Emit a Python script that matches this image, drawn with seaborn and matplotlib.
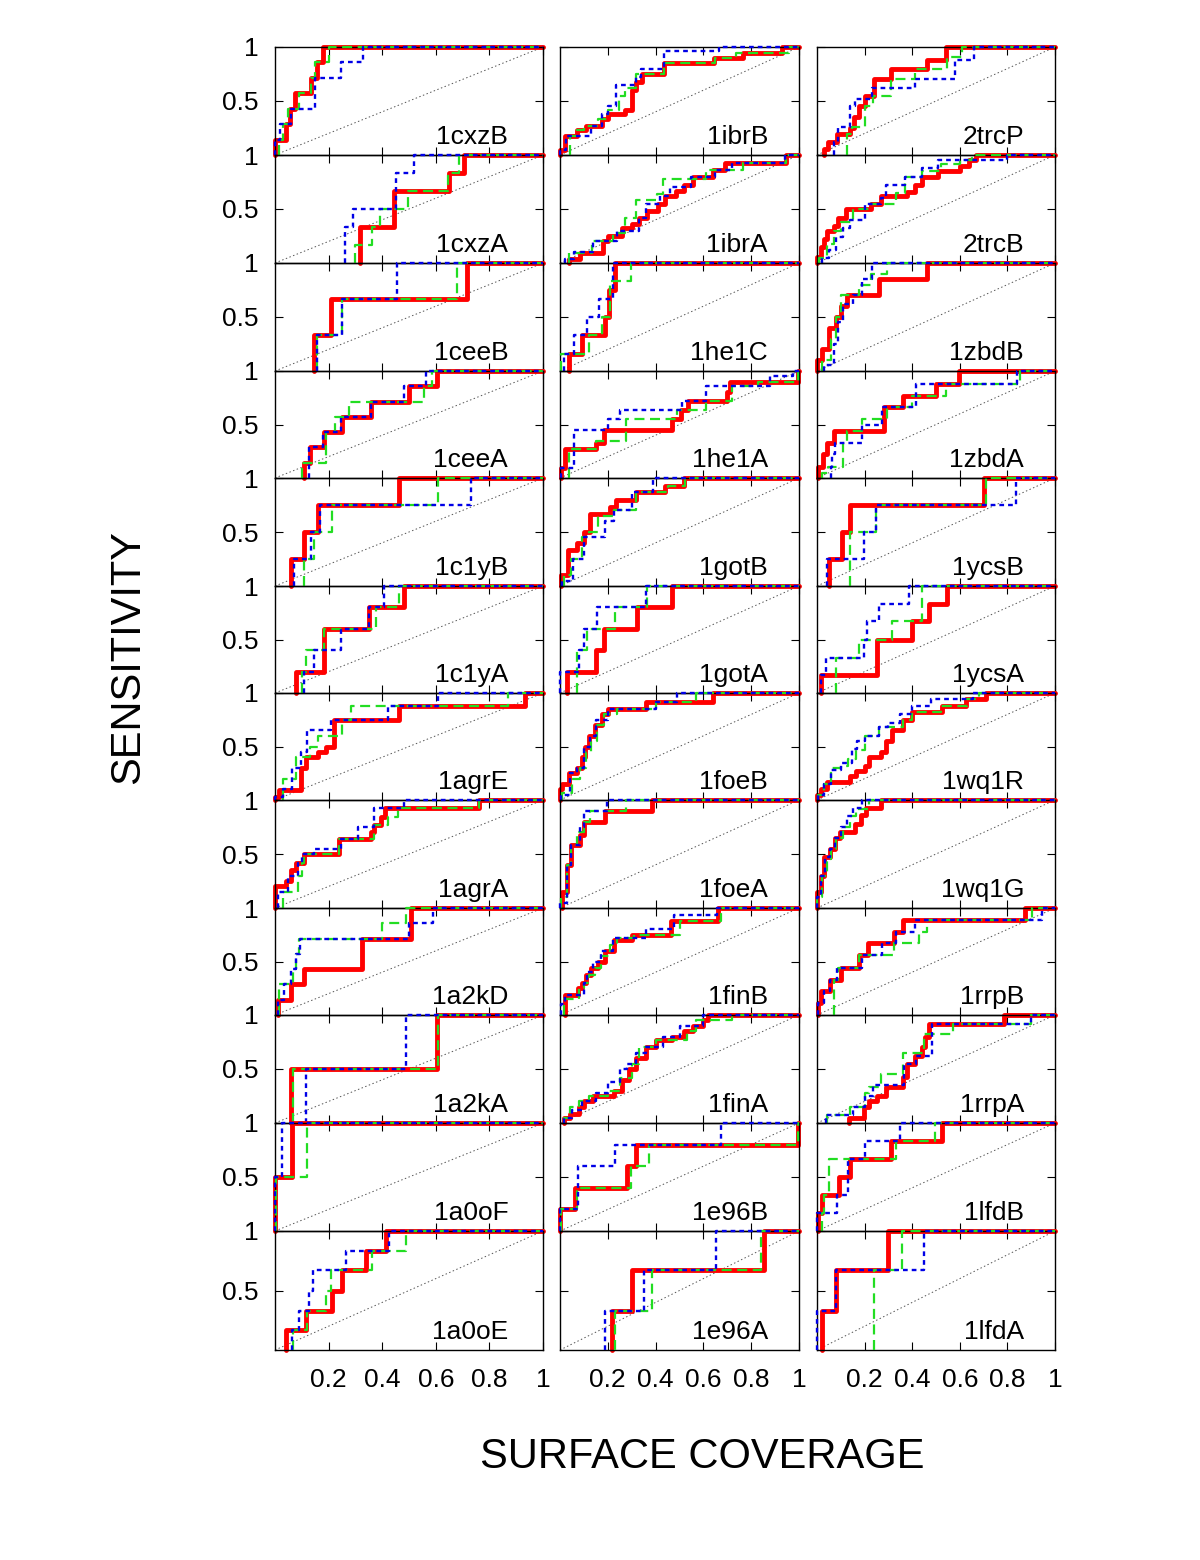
import matplotlib
matplotlib.use("Agg")
import matplotlib.pyplot as plt
import seaborn as sns

# ---------------- data ----------------
panel_names = [
    ["1cxzB", "1ibrB", "2trcP"],
    ["1cxzA", "1ibrA", "2trcB"],
    ["1ceeB", "1he1C", "1zbdB"],
    ["1ceeA", "1he1A", "1zbdA"],
    ["1c1yB", "1gotB", "1ycsB"],
    ["1c1yA", "1gotA", "1ycsA"],
    ["1agrE", "1foeB", "1wq1R"],
    ["1agrA", "1foeA", "1wq1G"],
    ["1a2kD", "1finB", "1rrpB"],
    ["1a2kA", "1finA", "1rrpA"],
    ["1a0oF", "1e96B", "1lfdB"],
    ["1a0oE", "1e96A", "1lfdA"],
]

x_ticks = [0.2, 0.4, 0.6, 0.8, 1.0]
x_tick_labels = ["0.2", "0.4", "0.6", "0.8", "1"]
y_ticks = [0.5, 1.0]
y_tick_labels = ["0.5", "1"]

# red (thick solid) curve: jump positions and levels after each jump
red_x = {
    "1cxzB": [0.0, 0.04, 0.055, 0.075, 0.135, 0.155, 0.18],
    "1ibrB": [0.0, 0.02, 0.07, 0.11, 0.175, 0.2, 0.27, 0.3, 0.32, 0.345, 0.435, 0.645, 0.765, 0.93],
    "2trcP": [0.03, 0.045, 0.085, 0.14, 0.155, 0.175, 0.2, 0.24, 0.31, 0.463, 0.54],
    "1cxzA": [0.317, 0.444, 0.648, 0.704],
    "1ibrA": [0.036, 0.085, 0.18, 0.2, 0.26, 0.3, 0.33, 0.365, 0.41, 0.44, 0.485, 0.52, 0.555, 0.64, 0.69, 0.947],
    "2trcB": [0.0, 0.015, 0.03, 0.043, 0.07, 0.09, 0.12, 0.225, 0.27, 0.38, 0.41, 0.44, 0.51, 0.6, 0.64, 0.667],
    "1ceeB": [0.146, 0.208, 0.715],
    "1he1C": [0.036, 0.092, 0.19, 0.207, 0.232],
    "1zbdB": [0.0, 0.02, 0.05, 0.08, 0.1, 0.127, 0.26, 0.464],
    "1ceeA": [0.11, 0.13, 0.183, 0.25, 0.357, 0.5, 0.605],
    "1he1A": [0.005, 0.022, 0.15, 0.183, 0.47, 0.505, 0.535, 0.7, 0.71, 0.995],
    "1zbdA": [0.005, 0.025, 0.04, 0.07, 0.28, 0.36, 0.5, 0.597],
    "1c1yB": [0.06, 0.108, 0.16, 0.462],
    "1gotB": [0.005, 0.035, 0.07, 0.1, 0.125, 0.21, 0.235, 0.32, 0.44, 0.52],
    "1ycsB": [0.05, 0.106, 0.14, 0.7],
    "1c1yA": [0.078, 0.183, 0.35, 0.48],
    "1gotA": [0.03, 0.15, 0.183, 0.323, 0.47],
    "1ycsA": [0.015, 0.253, 0.4, 0.47, 0.548],
    "1agrE": [0.0, 0.015, 0.097, 0.115, 0.16, 0.19, 0.22, 0.462, 0.933],
    "1foeB": [0.0, 0.01, 0.036, 0.07, 0.09, 0.105, 0.12, 0.148, 0.176, 0.2, 0.358, 0.64],
    "1wq1R": [0.0, 0.015, 0.04, 0.14, 0.165, 0.2, 0.22, 0.27, 0.29, 0.315, 0.36, 0.4, 0.525, 0.625, 0.71],
    "1agrA": [0.0, 0.04, 0.06, 0.078, 0.11, 0.24, 0.357, 0.37, 0.394, 0.41, 0.76],
    "1foeA": [0.008, 0.03, 0.045, 0.085, 0.1, 0.19, 0.386],
    "1wq1G": [0.0, 0.015, 0.03, 0.055, 0.075, 0.095, 0.16, 0.185, 0.205, 0.267],
    "1a2kD": [0.01, 0.06, 0.11, 0.326, 0.506],
    "1finB": [0.022, 0.075, 0.09, 0.11, 0.13, 0.16, 0.19, 0.225, 0.3, 0.463, 0.66],
    "1rrpB": [0.005, 0.018, 0.055, 0.1, 0.176, 0.214, 0.323, 0.36, 0.876],
    "1a2kA": [0.06, 0.605],
    "1finA": [0.015, 0.043, 0.078, 0.1, 0.14, 0.225, 0.26, 0.29, 0.316, 0.36, 0.4, 0.47, 0.52, 0.555, 0.6, 0.62],
    "1rrpA": [0.134, 0.197, 0.22, 0.25, 0.29, 0.36, 0.38, 0.41, 0.44, 0.455, 0.47, 0.785],
    "1a0oF": [0.0, 0.065],
    "1e96B": [0.0, 0.064, 0.28, 0.32, 0.995],
    "1lfdB": [0.005, 0.022, 0.092, 0.14, 0.31, 0.527],
    "1a0oE": [0.041, 0.115, 0.214, 0.25, 0.338, 0.413],
    "1e96A": [0.218, 0.3, 0.855],
    "1lfdA": [0.022, 0.078, 0.3],
}
red_y = {
    "1cxzB": [0.14, 0.29, 0.43, 0.57, 0.71, 0.86, 1.0],
    "1ibrB": [0.05, 0.18, 0.23, 0.27, 0.33, 0.38, 0.42, 0.6, 0.68, 0.75, 0.85, 0.9, 0.94, 1.0],
    "2trcP": [0.06, 0.12, 0.19, 0.25, 0.35, 0.45, 0.55, 0.7, 0.8, 0.88, 1.0],
    "1cxzA": [0.33, 0.67, 0.83, 1.0],
    "1ibrA": [0.04, 0.09, 0.2, 0.25, 0.32, 0.36, 0.42, 0.48, 0.55, 0.62, 0.67, 0.72, 0.8, 0.86, 0.93, 1.0],
    "2trcB": [0.06, 0.15, 0.22, 0.3, 0.34, 0.42, 0.5, 0.55, 0.62, 0.66, 0.72, 0.8, 0.85, 0.9, 0.95, 1.0],
    "1ceeB": [0.33, 0.67, 1.0],
    "1he1C": [0.16, 0.33, 0.5, 0.75, 1.0],
    "1zbdB": [0.1, 0.2, 0.4, 0.5, 0.6, 0.7, 0.85, 1.0],
    "1ceeA": [0.14, 0.29, 0.43, 0.57, 0.71, 0.86, 1.0],
    "1he1A": [0.09, 0.27, 0.33, 0.45, 0.55, 0.64, 0.72, 0.8, 0.9, 1.0],
    "1zbdA": [0.1, 0.22, 0.33, 0.44, 0.66, 0.77, 0.88, 1.0],
    "1c1yB": [0.25, 0.5, 0.75, 1.0],
    "1gotB": [0.1, 0.33, 0.4, 0.5, 0.67, 0.73, 0.8, 0.87, 0.93, 1.0],
    "1ycsB": [0.25, 0.5, 0.75, 1.0],
    "1c1yA": [0.2, 0.6, 0.8, 1.0],
    "1gotA": [0.2, 0.4, 0.6, 0.8, 1.0],
    "1ycsA": [0.17, 0.5, 0.67, 0.83, 1.0],
    "1agrE": [0.03, 0.09, 0.3, 0.4, 0.45, 0.5, 0.75, 0.88, 1.0],
    "1foeB": [0.1, 0.15, 0.25, 0.3, 0.4, 0.5, 0.6, 0.7, 0.8, 0.85, 0.92, 1.0],
    "1wq1R": [0.05, 0.1, 0.17, 0.22, 0.27, 0.32, 0.4, 0.45, 0.55, 0.65, 0.75, 0.82, 0.88, 0.94, 1.0],
    "1agrA": [0.2, 0.25, 0.35, 0.42, 0.5, 0.64, 0.7, 0.77, 0.84, 0.93, 1.0],
    "1foeA": [0.15, 0.4, 0.58, 0.68, 0.8, 0.9, 1.0],
    "1wq1G": [0.15, 0.3, 0.47, 0.55, 0.65, 0.7, 0.78, 0.86, 0.93, 1.0],
    "1a2kD": [0.14, 0.29, 0.43, 0.71, 1.0],
    "1finB": [0.19, 0.25, 0.3, 0.37, 0.44, 0.5, 0.6, 0.7, 0.75, 0.88, 1.0],
    "1rrpB": [0.11, 0.22, 0.33, 0.44, 0.56, 0.67, 0.78, 0.89, 1.0],
    "1a2kA": [0.5, 1.0],
    "1finA": [0.05, 0.08, 0.15, 0.2, 0.25, 0.3, 0.4, 0.5, 0.6, 0.7, 0.77, 0.8, 0.85, 0.9, 0.95, 1.0],
    "1rrpA": [0.05, 0.15, 0.2, 0.25, 0.33, 0.43, 0.55, 0.62, 0.7, 0.8, 0.92, 1.0],
    "1a0oF": [0.5, 1.0],
    "1e96B": [0.2, 0.4, 0.6, 0.8, 1.0],
    "1lfdB": [0.17, 0.33, 0.5, 0.67, 0.83, 1.0],
    "1a0oE": [0.17, 0.33, 0.5, 0.67, 0.83, 1.0],
    "1e96A": [0.33, 0.67, 1.0],
    "1lfdA": [0.33, 0.67, 1.0],
}

# green (dashed) curve
green_x = {
    "1cxzB": [0.015, 0.03, 0.05, 0.09, 0.135, 0.15, 0.2],
    "1ibrB": [0.043, 0.07, 0.1, 0.16, 0.2, 0.245, 0.27, 0.32, 0.435, 0.65, 0.735, 0.96],
    "2trcP": [0.127, 0.145, 0.2, 0.235, 0.31, 0.41, 0.545, 0.61],
    "1cxzA": [0.30, 0.363, 0.39, 0.495, 0.645, 0.685],
    "1ibrA": [0.036, 0.134, 0.22, 0.27, 0.32, 0.405, 0.43, 0.61, 0.765, 0.947],
    "2trcB": [0.01, 0.04, 0.07, 0.1, 0.15, 0.22, 0.33, 0.37, 0.44, 0.52, 0.6, 0.65],
    "1ceeB": [0.158, 0.25, 0.68],
    "1he1C": [0.006, 0.12, 0.176, 0.21, 0.295],
    "1zbdB": [0.022, 0.06, 0.08, 0.1, 0.176, 0.225, 0.295],
    "1ceeA": [0.1, 0.19, 0.225, 0.276, 0.555, 0.586],
    "1he1A": [0.036, 0.15, 0.275, 0.49, 0.61, 0.72, 0.83, 0.995],
    "1zbdA": [0.022, 0.045, 0.11, 0.125, 0.19, 0.295, 0.4, 0.54, 0.855],
    "1c1yB": [0.107, 0.145, 0.214, 0.61],
    "1gotB": [0.015, 0.045, 0.092, 0.12, 0.16, 0.225, 0.32, 0.45, 0.525],
    "1ycsB": [0.14, 0.246, 0.708],
    "1c1yA": [0.1, 0.115, 0.183, 0.375, 0.462],
    "1gotA": [0.07, 0.113, 0.232, 0.365],
    "1ycsA": [0.078, 0.176, 0.316, 0.443],
    "1agrE": [0.03, 0.078, 0.13, 0.16, 0.25, 0.283, 0.87],
    "1foeB": [0.008, 0.05, 0.085, 0.11, 0.13, 0.155, 0.185, 0.24, 0.4, 0.57],
    "1wq1R": [0.005, 0.03, 0.06, 0.1, 0.13, 0.165, 0.2, 0.26, 0.36, 0.4, 0.52, 0.63, 0.68],
    "1agrA": [0.03, 0.085, 0.1, 0.11, 0.24, 0.37, 0.42, 0.46, 0.76],
    "1foeA": [0.003, 0.03, 0.045, 0.07, 0.1, 0.127, 0.275],
    "1wq1G": [0.0, 0.02, 0.04, 0.06, 0.08, 0.11, 0.14, 0.165, 0.22],
    "1a2kD": [0.016, 0.066, 0.08, 0.09, 0.4, 0.49],
    "1finB": [0.015, 0.08, 0.1, 0.12, 0.145, 0.17, 0.21, 0.24, 0.31, 0.5, 0.675],
    "1rrpB": [0.071, 0.09, 0.176, 0.323, 0.43, 0.463, 0.905],
    "1a2kA": [0.066, 0.61],
    "1finA": [0.015, 0.04, 0.08, 0.12, 0.2, 0.25, 0.3, 0.33, 0.4, 0.53, 0.57, 0.72],
    "1rrpA": [0.043, 0.14, 0.2, 0.22, 0.27, 0.36, 0.45, 0.57, 0.9],
    "1a0oF": [0.005, 0.12],
    "1e96B": [0.005, 0.07, 0.295, 0.372, 0.995],
    "1lfdB": [0.022, 0.03, 0.05, 0.33, 0.495],
    "1a0oE": [0.066, 0.12, 0.19, 0.208, 0.363, 0.487],
    "1e96A": [0.232, 0.387, 0.84],
    "1lfdA": [0.24, 0.358],
}
green_y = {
    "1cxzB": [0.14, 0.29, 0.43, 0.57, 0.71, 0.86, 1.0],
    "1ibrB": [0.18, 0.23, 0.27, 0.33, 0.42, 0.55, 0.62, 0.75, 0.85, 0.9, 0.94, 1.0],
    "2trcP": [0.19, 0.26, 0.45, 0.55, 0.7, 0.8, 0.91, 1.0],
    "1cxzA": [0.17, 0.33, 0.5, 0.67, 0.83, 1.0],
    "1ibrA": [0.09, 0.2, 0.28, 0.42, 0.58, 0.64, 0.78, 0.86, 0.93, 1.0],
    "2trcB": [0.05, 0.18, 0.3, 0.38, 0.5, 0.55, 0.65, 0.8, 0.85, 0.92, 0.95, 1.0],
    "1ceeB": [0.33, 0.67, 1.0],
    "1he1C": [0.16, 0.33, 0.5, 0.83, 1.0],
    "1zbdB": [0.1, 0.3, 0.5, 0.7, 0.8, 0.9, 1.0],
    "1ceeA": [0.14, 0.43, 0.57, 0.71, 0.86, 1.0],
    "1he1A": [0.27, 0.35, 0.55, 0.64, 0.72, 0.86, 0.9, 1.0],
    "1zbdA": [0.05, 0.1, 0.33, 0.44, 0.55, 0.66, 0.77, 0.88, 1.0],
    "1c1yB": [0.25, 0.5, 0.75, 1.0],
    "1gotB": [0.1, 0.25, 0.45, 0.5, 0.65, 0.7, 0.87, 0.93, 1.0],
    "1ycsB": [0.5, 0.75, 1.0],
    "1c1yA": [0.2, 0.4, 0.6, 0.8, 1.0],
    "1gotA": [0.4, 0.6, 0.8, 1.0],
    "1ycsA": [0.33, 0.5, 0.67, 1.0],
    "1agrE": [0.2, 0.4, 0.5, 0.6, 0.75, 0.88, 1.0],
    "1foeB": [0.07, 0.2, 0.3, 0.45, 0.55, 0.7, 0.8, 0.85, 0.92, 1.0],
    "1wq1R": [0.05, 0.15, 0.3, 0.32, 0.38, 0.47, 0.6, 0.68, 0.75, 0.82, 0.88, 0.94, 1.0],
    "1agrA": [0.15, 0.3, 0.42, 0.5, 0.64, 0.77, 0.84, 0.93, 1.0],
    "1foeA": [0.1, 0.4, 0.58, 0.7, 0.8, 0.9, 1.0],
    "1wq1G": [0.1, 0.3, 0.45, 0.55, 0.65, 0.75, 0.85, 0.92, 1.0],
    "1a2kD": [0.29, 0.43, 0.57, 0.71, 0.86, 1.0],
    "1finB": [0.15, 0.25, 0.3, 0.37, 0.44, 0.55, 0.65, 0.72, 0.75, 0.88, 1.0],
    "1rrpB": [0.33, 0.44, 0.56, 0.67, 0.78, 0.89, 1.0],
    "1a2kA": [0.5, 1.0],
    "1finA": [0.05, 0.15, 0.2, 0.25, 0.3, 0.42, 0.55, 0.7, 0.77, 0.85, 0.95, 1.0],
    "1rrpA": [0.07, 0.15, 0.28, 0.33, 0.45, 0.65, 0.82, 0.92, 1.0],
    "1a0oF": [0.5, 1.0],
    "1e96B": [0.2, 0.4, 0.6, 0.8, 1.0],
    "1lfdB": [0.17, 0.33, 0.67, 0.83, 1.0],
    "1a0oE": [0.17, 0.33, 0.5, 0.67, 0.83, 1.0],
    "1e96A": [0.33, 0.67, 1.0],
    "1lfdA": [0.67, 1.0],
}

# blue (short-dashed) curve
blue_x = {
    "1cxzB": [0.0, 0.02, 0.06, 0.15, 0.245, 0.33],
    "1ibrB": [0.0, 0.025, 0.13, 0.175, 0.2, 0.235, 0.32, 0.34, 0.435, 0.665],
    "2trcP": [0.07, 0.09, 0.14, 0.16, 0.23, 0.41, 0.58, 0.66],
    "1cxzA": [0.26, 0.29, 0.45, 0.52],
    "1ibrA": [0.02, 0.06, 0.14, 0.24, 0.33, 0.36, 0.42, 0.46, 0.55, 0.65, 0.72, 0.94],
    "2trcB": [0.02, 0.05, 0.08, 0.11, 0.14, 0.2, 0.27, 0.29, 0.37, 0.44, 0.51, 0.8],
    "1ceeB": [0.158, 0.25, 0.455],
    "1he1C": [0.015, 0.057, 0.113, 0.162, 0.22],
    "1zbdB": [0.03, 0.07, 0.09, 0.11, 0.15, 0.19, 0.232],
    "1ceeA": [0.128, 0.18, 0.245, 0.357, 0.48, 0.562],
    "1he1A": [0.005, 0.06, 0.2, 0.25, 0.51, 0.61, 0.877, 0.975],
    "1zbdA": [0.057, 0.065, 0.075, 0.19, 0.275, 0.415, 0.84],
    "1c1yB": [0.072, 0.135, 0.168, 0.73],
    "1gotB": [0.008, 0.055, 0.1, 0.19, 0.225, 0.3, 0.39],
    "1ycsB": [0.043, 0.197, 0.246, 0.835],
    "1c1yA": [0.11, 0.146, 0.245, 0.35, 0.406],
    "1gotA": [0.0, 0.078, 0.1, 0.155, 0.358],
    "1ycsA": [0.015, 0.036, 0.197, 0.21, 0.26, 0.387],
    "1agrE": [0.0, 0.03, 0.065, 0.097, 0.12, 0.21, 0.42, 0.61],
    "1foeB": [0.005, 0.04, 0.07, 0.1, 0.125, 0.15, 0.2, 0.4, 0.49],
    "1wq1R": [0.005, 0.03, 0.06, 0.1, 0.145, 0.17, 0.2, 0.26, 0.3, 0.35, 0.4, 0.48, 0.655],
    "1agrA": [0.01, 0.05, 0.085, 0.1, 0.146, 0.245, 0.31, 0.37, 0.48],
    "1foeA": [0.0, 0.03, 0.045, 0.085, 0.1, 0.197],
    "1wq1G": [0.0, 0.015, 0.035, 0.055, 0.075, 0.1, 0.125, 0.15, 0.19],
    "1a2kD": [0.01, 0.035, 0.06, 0.08, 0.095, 0.5, 0.59],
    "1finB": [0.005, 0.02, 0.1, 0.115, 0.14, 0.17, 0.22, 0.36, 0.475, 0.655],
    "1rrpB": [0.005, 0.03, 0.055, 0.085, 0.19, 0.275, 0.33, 0.41, 0.947],
    "1a2kA": [0.115, 0.487],
    "1finA": [0.015, 0.05, 0.09, 0.15, 0.2, 0.25, 0.28, 0.32, 0.36, 0.43, 0.5, 0.6],
    "1rrpA": [0.036, 0.15, 0.2, 0.235, 0.365, 0.415, 0.485, 0.9],
    "1a0oF": [0.0, 0.025],
    "1e96B": [0.0, 0.075, 0.232, 0.674],
    "1lfdB": [0.0, 0.085, 0.13, 0.2, 0.35],
    "1a0oE": [0.065, 0.09, 0.125, 0.14, 0.264, 0.425],
    "1e96A": [0.19, 0.35, 0.653],
    "1lfdA": [0.0, 0.078, 0.45],
}
blue_y = {
    "1cxzB": [0.14, 0.29, 0.43, 0.71, 0.86, 1.0],
    "1ibrB": [0.05, 0.18, 0.27, 0.38, 0.45, 0.65, 0.72, 0.8, 0.96, 1.0],
    "2trcP": [0.12, 0.26, 0.45, 0.52, 0.62, 0.7, 0.88, 1.0],
    "1cxzA": [0.33, 0.5, 0.83, 1.0],
    "1ibrA": [0.04, 0.1, 0.2, 0.3, 0.42, 0.55, 0.62, 0.7, 0.8, 0.86, 0.93, 1.0],
    "2trcB": [0.05, 0.12, 0.24, 0.32, 0.4, 0.55, 0.6, 0.72, 0.8, 0.88, 0.95, 1.0],
    "1ceeB": [0.33, 0.67, 1.0],
    "1he1C": [0.16, 0.33, 0.5, 0.67, 1.0],
    "1zbdB": [0.06, 0.25, 0.45, 0.62, 0.7, 0.85, 1.0],
    "1ceeA": [0.29, 0.43, 0.57, 0.71, 0.86, 1.0],
    "1he1A": [0.09, 0.45, 0.55, 0.64, 0.72, 0.86, 0.95, 1.0],
    "1zbdA": [0.1, 0.22, 0.33, 0.5, 0.66, 0.88, 1.0],
    "1c1yB": [0.25, 0.5, 0.75, 1.0],
    "1gotB": [0.05, 0.25, 0.45, 0.6, 0.7, 0.87, 1.0],
    "1ycsB": [0.25, 0.5, 0.75, 1.0],
    "1c1yA": [0.2, 0.4, 0.6, 0.8, 1.0],
    "1gotA": [0.2, 0.4, 0.6, 0.8, 1.0],
    "1ycsA": [0.17, 0.33, 0.5, 0.67, 0.83, 1.0],
    "1agrE": [0.03, 0.1, 0.3, 0.45, 0.65, 0.75, 0.88, 1.0],
    "1foeB": [0.05, 0.25, 0.3, 0.5, 0.6, 0.75, 0.85, 0.92, 1.0],
    "1wq1R": [0.05, 0.15, 0.28, 0.35, 0.48, 0.55, 0.6, 0.68, 0.72, 0.8, 0.88, 0.94, 1.0],
    "1agrA": [0.15, 0.3, 0.42, 0.5, 0.55, 0.64, 0.75, 0.93, 1.0],
    "1foeA": [0.05, 0.4, 0.58, 0.75, 0.9, 1.0],
    "1wq1G": [0.1, 0.3, 0.47, 0.55, 0.65, 0.75, 0.85, 0.93, 1.0],
    "1a2kD": [0.14, 0.29, 0.43, 0.57, 0.71, 0.86, 1.0],
    "1finB": [0.1, 0.19, 0.3, 0.4, 0.5, 0.6, 0.72, 0.8, 0.93, 1.0],
    "1rrpB": [0.11, 0.22, 0.33, 0.44, 0.56, 0.67, 0.78, 0.89, 1.0],
    "1a2kA": [0.5, 1.0],
    "1finA": [0.05, 0.12, 0.2, 0.28, 0.38, 0.5, 0.55, 0.65, 0.7, 0.8, 0.9, 1.0],
    "1rrpA": [0.07, 0.15, 0.25, 0.35, 0.55, 0.62, 0.92, 1.0],
    "1a0oF": [0.5, 1.0],
    "1e96B": [0.2, 0.6, 0.8, 1.0],
    "1lfdB": [0.17, 0.33, 0.67, 0.83, 1.0],
    "1a0oE": [0.17, 0.33, 0.5, 0.67, 0.83, 1.0],
    "1e96A": [0.33, 0.67, 1.0],
    "1lfdA": [0.33, 0.67, 1.0],
}

# ---------------- style ----------------
sns.set_style("ticks")
plt.rcParams["font.family"] = ["Liberation Sans", "DejaVu Sans"]
plt.rcParams["text.color"] = "black"
plt.rcParams["xtick.color"] = "black"
plt.rcParams["ytick.color"] = "black"
plt.rcParams["xtick.labelcolor"] = "black"
plt.rcParams["ytick.labelcolor"] = "black"
plt.rcParams["axes.edgecolor"] = "black"

W, H = 1200, 1560
fig = plt.figure(figsize=(W / 100, H / 100), dpi=100)

col_px = [(275, 543), (560, 799), (817, 1055)]
row_px = [47, 155, 263, 371, 478, 586, 693, 800, 908, 1015, 1123, 1231, 1350]

RED = "#ff0000"
GREEN = "#22dd22"
BLUE = "#0000e6"


def step_points(xs, ys):
    px = [xs[0]] + list(xs) + [1.0]
    py = [0.0] + list(ys) + [ys[-1]]
    return px, py


n_rows = len(panel_names)
for r in range(n_rows):
    top, bot = row_px[r], row_px[r + 1]
    for c in range(3):
        name = panel_names[r][c]
        l, rr = col_px[c]
        ax = fig.add_axes([l / W, 1 - bot / H, (rr - l) / W, (bot - top) / H])
        ax.set_facecolor("none")

        sns.lineplot(x=[0.0, 1.0], y=[0.0, 1.0], ax=ax, color="#555555",
                     lw=0.7, linestyle=(0, (1.5, 2.5)), sort=False,
                     estimator=None, legend=False, zorder=1)
        specs = [
            (red_x, red_y, RED, 3.5, "-", 2),
            (green_x, green_y, GREEN, 1.6, (0, (4.5, 2.5)), 3),
            (blue_x, blue_y, BLUE, 1.7, (0, (2.0, 1.7)), 4),
        ]
        for dx, dy, col, lw, ls, z in specs:
            px, py = step_points(dx[name], dy[name])
            sns.lineplot(x=px, y=py, ax=ax, color=col, lw=lw, linestyle=ls,
                         drawstyle="steps-post", sort=False, estimator=None,
                         legend=False, zorder=z, clip_on=False)

        ax.set_xlim(0, 1)
        ax.set_ylim(0, 1)
        ax.set_xlabel("")
        ax.set_ylabel("")
        ax.set_xticks(x_ticks)
        ax.set_yticks(y_ticks)
        ax.set_xticklabels(x_tick_labels)
        ax.set_yticklabels(y_tick_labels)
        ax.tick_params(direction="in", top=True, right=True, length=6,
                       width=0.8, labelsize=19, color="black",
                       labelcolor="black")
        ax.tick_params(axis="y", pad=12)
        ax.tick_params(axis="x", pad=13)
        ax.tick_params(labelleft=(c == 0), labelbottom=(r == n_rows - 1))
        for sp in ax.spines.values():
            sp.set_color("black")
            sp.set_linewidth(1.0)
            sp.set_visible(True)
        ax.text(0.87, 11.0 / (bot - top), name, transform=ax.transAxes,
                ha="right", va="baseline", fontsize=19, color="black",
                zorder=6)

fig.text(702 / W, 1 - 1457 / H, "SURFACE COVERAGE", ha="center",
         va="center", fontsize=30, color="black")
fig.text(128 / W, 1 - 657 / H, "SENSITIVITY", ha="center", va="center",
         rotation=90, fontsize=30, color="black")

fig.savefig("out.png", dpi=100, facecolor="white")
